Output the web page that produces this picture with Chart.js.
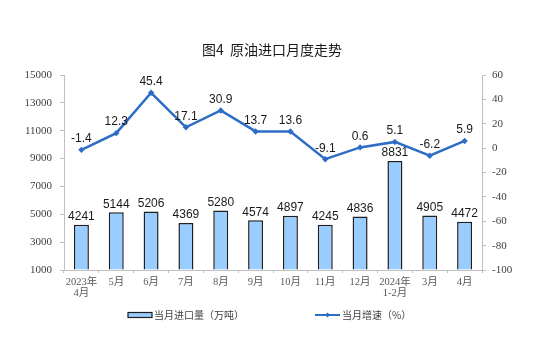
<!DOCTYPE html>
<html>
<head>
<meta charset="utf-8">
<script src="https://cdn.jsdelivr.net/npm/chart.js@4"></script>
<style>
html,body{margin:0;padding:0;background:#fff;}
#wrap{width:535px;height:340px;position:relative;}
</style>
</head>
<body>
<div id="wrap"><canvas id="c" width="535" height="340"></canvas></div>
<script>
const categories = [["2023年","4月"],"5月","6月","7月","8月","9月","10月","11月","12月",["2024年","1-2月"],"3月","4月"];
const importVolume = [4241,5144,5206,4369,5280,4574,4897,4245,4836,8831,4905,4472];
const growthRate = [-1.4,12.3,45.4,17.1,30.9,13.7,13.6,-9.1,0.6,5.1,-6.2,5.9];
const leftTicks = [1000,3000,5000,7000,9000,11000,13000,15000];
const rightTicks = [-100,-80,-60,-40,-20,0,20,40,60];
const titleText = "图4  原油进口月度走势";
const barLegend = "当月进口量（万吨）";
const lineLegend = "当月增速（%）";

const BAR_FILL = "#99CCFF";
const BAR_BORDER = "#1f1f1f";
const LINE_COLOR = "#2E6DC6";
const AXIS_COLOR = "#BFBFBF";

const labelPlugin = {
  id: "labels",
  afterDatasetsDraw(chart) {
    const ctx = chart.ctx;
    ctx.save();
    ctx.font = "12px 'Liberation Sans', Arial, sans-serif";
    ctx.fillStyle = "#1a1a1a";
    ctx.textAlign = "center";
    ctx.textBaseline = "middle";
    const barMeta = chart.getDatasetMeta(0);
    barMeta.data.forEach((el, i) => {
      ctx.fillText(String(importVolume[i]), el.x, el.y - 8);
    });
    const lineMeta = chart.getDatasetMeta(1);
    lineMeta.data.forEach((el, i) => {
      ctx.fillText(growthRate[i].toFixed(1), el.x, el.y - 11);
    });
    ctx.restore();
  }
};

const decoPlugin = {
  id: "deco",
  afterDraw(chart) {
    const ctx = chart.ctx;
    ctx.save();
    ctx.font = "14px 'Noto Sans CJK SC', sans-serif";
    ctx.fillStyle = "#1a1a1a";
    ctx.textAlign = "center";
    ctx.textBaseline = "middle";
    ctx.fillText(titleText, 272, 50);
    const ly = 315;
    ctx.fillStyle = BAR_FILL;
    ctx.fillRect(128, ly - 2.5, 24, 5);
    ctx.strokeStyle = BAR_BORDER;
    ctx.lineWidth = 1.2;
    ctx.strokeRect(128, ly - 2.5, 24, 5);
    ctx.font = "10px 'Noto Sans CJK SC', sans-serif";
    ctx.fillStyle = "#404040";
    ctx.textAlign = "left";
    ctx.fillText(barLegend, 154, ly);
    ctx.strokeStyle = LINE_COLOR;
    ctx.lineWidth = 2;
    ctx.beginPath();
    ctx.moveTo(315, ly);
    ctx.lineTo(340, ly);
    ctx.stroke();
    ctx.fillStyle = LINE_COLOR;
    ctx.beginPath();
    ctx.moveTo(327.5, ly - 2.5);
    ctx.lineTo(330, ly);
    ctx.lineTo(327.5, ly + 2.5);
    ctx.lineTo(325, ly);
    ctx.closePath();
    ctx.fill();
    ctx.fillStyle = "#404040";
    ctx.fillText(lineLegend, 342, ly);
    ctx.restore();
  }
};

new Chart(document.getElementById("c"), {
  type: "bar",
  data: {
    labels: categories,
    datasets: [
      {
        type: "bar",
        label: barLegend,
        data: importVolume,
        yAxisID: "y",
        base: leftTicks[0],
        backgroundColor: BAR_FILL,
        borderColor: BAR_BORDER,
        borderWidth: 1.5,
        borderSkipped: "bottom",
        barPercentage: 0.43,
        categoryPercentage: 1.0,
        order: 2
      },
      {
        type: "line",
        label: lineLegend,
        data: growthRate,
        yAxisID: "y1",
        borderColor: LINE_COLOR,
        backgroundColor: LINE_COLOR,
        borderWidth: 2.5,
        pointStyle: "rectRot",
        pointRadius: 3.2,
        pointBackgroundColor: LINE_COLOR,
        pointBorderWidth: 0,
        tension: 0,
        clip: false,
        order: 1
      }
    ]
  },
  options: {
    responsive: false,
    animation: false,
    devicePixelRatio: 1,
    layout: { padding: { top: 75, bottom: 0, left: 0, right: 0 } },
    plugins: {
      legend: { display: false },
      title: { display: false },
      tooltip: { enabled: false }
    },
    scales: {
      x: {
        offset: true,
        grid: {
          offset: true,
          drawOnChartArea: false,
          drawTicks: true,
          tickLength: 3,
          color: AXIS_COLOR
        },
        border: { display: true, color: AXIS_COLOR, width: 1 },
        ticks: {
          font: { family: "'Liberation Serif', 'Noto Sans CJK SC', serif", size: 10.5, lineHeight: 1.1 },
          color: "#595959",
          padding: 3,
          maxRotation: 0,
          autoSkip: false
        },
        afterFit(scale) { scale.height = 70; }
      },
      y: {
        position: "left",
        min: leftTicks[0],
        max: leftTicks[leftTicks.length - 1],
        afterBuildTicks(scale) { scale.ticks = leftTicks.map(v => ({ value: v })); },
        grid: { drawOnChartArea: false, drawTicks: true, tickLength: 4, color: AXIS_COLOR },
        border: { display: true, color: AXIS_COLOR, width: 1 },
        ticks: {
          font: { family: "'Liberation Serif', serif", size: 11 },
          color: "#404040",
          padding: 8,
          callback: (v) => String(v)
        },
        afterFit(scale) { scale.width = 64; }
      },
      y1: {
        position: "right",
        min: rightTicks[0],
        max: rightTicks[rightTicks.length - 1],
        afterBuildTicks(scale) { scale.ticks = rightTicks.map(v => ({ value: v })); },
        grid: { drawOnChartArea: false, drawTicks: true, tickLength: 4, color: AXIS_COLOR },
        border: { display: true, color: AXIS_COLOR, width: 1 },
        ticks: {
          font: { family: "'Liberation Serif', serif", size: 11 },
          color: "#404040",
          padding: 6,
          callback: (v) => String(v)
        },
        afterFit(scale) { scale.width = 53; }
      }
    }
  },
  plugins: [labelPlugin, decoPlugin]
});
</script>
</body>
</html>
